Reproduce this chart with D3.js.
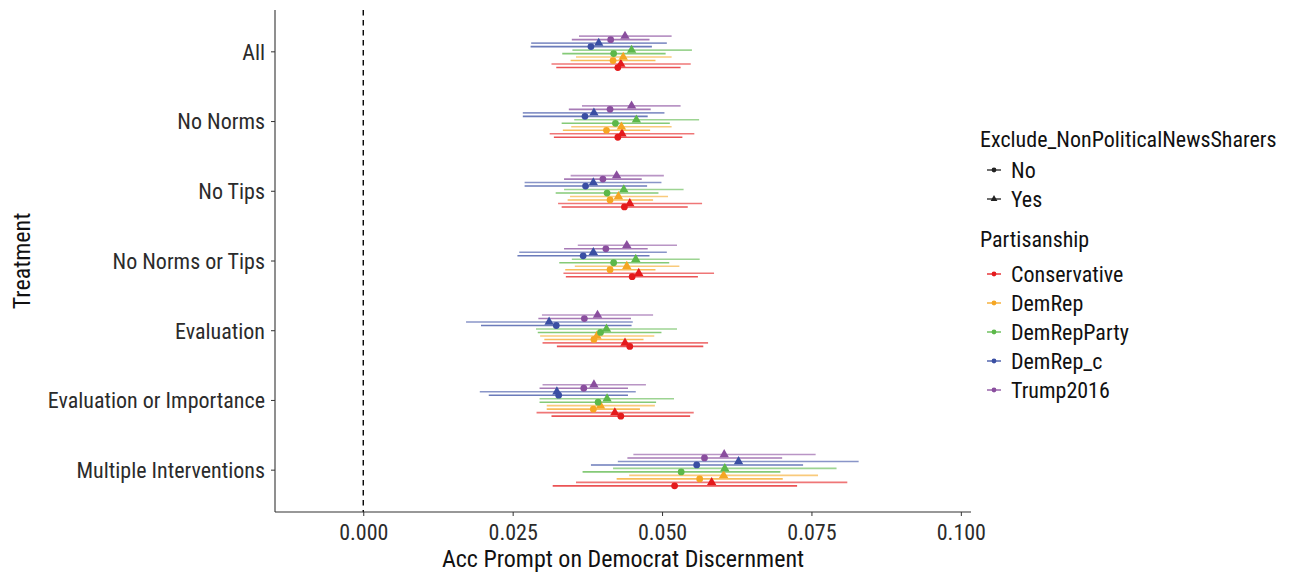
<!DOCTYPE html>
<html><head><meta charset="utf-8">
<script src="https://cdn.jsdelivr.net/npm/d3@7"></script>
<style>
body{margin:0;background:#fff;}
text{font-family:"Roboto Condensed","Liberation Sans Narrow","Arial Narrow",sans-serif;}
</style></head><body>
<svg id="c" width="1291" height="578"></svg>
<script>
const treatments = ["All","No Norms","No Tips","No Norms or Tips","Evaluation","Evaluation or Importance","Multiple Interventions"];
const partisanship = ["Conservative","DemRep","DemRepParty","DemRep_c","Trump2016"];
const excludeLevels = ["No","Yes"];
const partyColors = ["#e41a1c","#f5a623","#5cb84a","#3a4fa3","#8a4e9e"];
const xTicks = [0.000,0.025,0.050,0.075,0.100];

// estimates per treatment: [party][exclude No, Yes]
const est = {
 "All":[[0.0426,0.0431],[0.0418,0.0435],[0.0419,0.0449],[0.0381,0.0394],[0.0414,0.0438]],
 "No Norms":[[0.0426,0.0433],[0.0407,0.0432],[0.0422,0.0457],[0.0371,0.0386],[0.0413,0.0449]],
 "No Tips":[[0.0437,0.0446],[0.0413,0.0427],[0.0408,0.0436],[0.0372,0.0385],[0.0401,0.0424]],
 "No Norms or Tips":[[0.0450,0.0461],[0.0413,0.0441],[0.0419,0.0456],[0.0368,0.0385],[0.0406,0.0441]],
 "Evaluation":[[0.0446,0.0438],[0.0386,0.0391],[0.0397,0.0407],[0.0323,0.0311],[0.0370,0.0392]],
 "Evaluation or Importance":[[0.0431,0.0421],[0.0385,0.0397],[0.0393,0.0408],[0.0327,0.0324],[0.0369,0.0386]],
 "Multiple Interventions":[[0.0521,0.0583],[0.0563,0.0603],[0.0532,0.0605],[0.0558,0.0628],[0.0571,0.0604]]
};
const lower = {
 "All":[[0.0323,0.0315],[0.0347,0.0356],[0.0333,0.0350],[0.0280,0.0281],[0.0349,0.0361]],
 "No Norms":[[0.0319,0.0312],[0.0334,0.0348],[0.0332,0.0353],[0.0267,0.0267],[0.0344,0.0366]],
 "No Tips":[[0.0332,0.0326],[0.0342,0.0346],[0.0322,0.0336],[0.0270,0.0270],[0.0336,0.0347]],
 "No Norms or Tips":[[0.0339,0.0335],[0.0338,0.0354],[0.0328,0.0349],[0.0258,0.0261],[0.0336,0.0359]],
 "Evaluation":[[0.0324,0.0300],[0.0303,0.0296],[0.0292,0.0289],[0.0197,0.0172],[0.0293,0.0299]],
 "Evaluation or Importance":[[0.0315,0.0290],[0.0307,0.0307],[0.0295,0.0295],[0.0210,0.0195],[0.0295,0.0300]],
 "Multiple Interventions":[[0.0317,0.0356],[0.0424,0.0445],[0.0367,0.0418],[0.0381,0.0426],[0.0442,0.0452]]
};
const upper = {
 "All":[[0.0531,0.0548],[0.0489,0.0516],[0.0506,0.0550],[0.0483,0.0508],[0.0479,0.0516]],
 "No Norms":[[0.0534,0.0554],[0.0480,0.0516],[0.0513,0.0562],[0.0476,0.0504],[0.0481,0.0531]],
 "No Tips":[[0.0543,0.0567],[0.0485,0.0510],[0.0494,0.0536],[0.0475,0.0499],[0.0466,0.0503]],
 "No Norms or Tips":[[0.0560,0.0587],[0.0489,0.0529],[0.0512,0.0563],[0.0479,0.0508],[0.0476,0.0525]],
 "Evaluation":[[0.0569,0.0577],[0.0469,0.0487],[0.0499,0.0525],[0.0449,0.0451],[0.0448,0.0485]],
 "Evaluation or Importance":[[0.0547,0.0553],[0.0463,0.0488],[0.0490,0.0520],[0.0443,0.0456],[0.0443,0.0473]],
 "Multiple Interventions":[[0.0726,0.0810],[0.0702,0.0761],[0.0698,0.0792],[0.0736,0.0829],[0.0701,0.0757]]
};

const svg = d3.select("#c");
const pL = 275, pR = 971, pT = 10, pB = 512;
const x = d3.scaleLinear().domain([-0.01477, 0.1017]).range([pL, pR]);
const y = d3.scaleBand().domain(treatments).range([pT, pB]).paddingOuter(0.1).paddingInner(0);
const color = d3.scaleOrdinal().domain(partisanship).range(partyColors);

const rows = [];
partisanship.forEach((p,pi)=>excludeLevels.forEach((e,ei)=>{
  treatments.forEach(t=>rows.push({t,p,e,idx:pi*2+ei,est:est[t][pi][ei],lo:lower[t][pi][ei],hi:upper[t][pi][ei]}));
}));
const dodgeStep = y.bandwidth()*0.05;
const yPos = d => y(d.t) + y.bandwidth()/2 + (4.5 - d.idx)*dodgeStep;

svg.append("line").attr("x1",x(0)).attr("x2",x(0)).attr("y1",pT).attr("y2",pB)
  .attr("stroke","#000").attr("stroke-width",1.4).attr("stroke-dasharray","5.5,4.5");

const g = svg.append("g");
g.selectAll("line.ci").data(rows).join("line").attr("class","ci")
  .attr("x1",d=>x(d.lo)).attr("x2",d=>x(d.hi)).attr("y1",yPos).attr("y2",yPos)
  .attr("stroke",d=>color(d.p)).attr("stroke-width",1.6)
  .attr("stroke-opacity",d=>d.e==="No"?0.75:0.6);

const tri = d3.symbol().type(d3.symbolTriangle).size(38);
const circ = d3.symbol().type(d3.symbolCircle).size(36);
g.selectAll("path.pt").data(rows).join("path").attr("class","pt")
  .attr("d",d=>d.e==="No"?circ():tri())
  .attr("transform",d=>`translate(${x(d.est)},${yPos(d)})`)
  .attr("fill",d=>color(d.p));

const xAxis = svg.append("g").attr("transform",`translate(0,${pB})`)
  .call(d3.axisBottom(x).tickValues(xTicks).tickFormat(d3.format(".3f")).tickSizeOuter(0).tickSize(4).tickPadding(6));
const yAxis = svg.append("g").attr("transform",`translate(${pL},0)`)
  .call(d3.axisLeft(y).tickSizeOuter(0).tickSize(4).tickPadding(6));
[xAxis,yAxis].forEach(a=>{
  a.select(".domain").attr("stroke","#333").attr("stroke-width",1.1);
  a.selectAll(".tick line").attr("stroke","#333");
  a.selectAll(".tick text").attr("fill","#2b2b2b").style("font-size","22px");
});
xAxis.select(".domain").attr("d",`M${pL},0H${pR}`);
yAxis.select(".domain").attr("d",`M0,${pT}V${pB}`);
xAxis.selectAll(".tick text").attr("y",28).attr("dy","0");
yAxis.selectAll(".tick text").attr("dy","0.36em");

svg.append("text").attr("x",(pL+pR)/2).attr("y",567).attr("text-anchor","middle")
  .style("font-size","24px").attr("fill","#111").text("Acc Prompt on Democrat Discernment");
svg.append("text").attr("transform",`translate(30,${(pT+pB)/2}) rotate(-90)`).attr("text-anchor","middle")
  .style("font-size","24px").attr("fill","#111").text("Treatment");

const lg = svg.append("g");
lg.append("text").attr("x",980).attr("y",147).style("font-size","22px").attr("fill","#111").text("Exclude_NonPoliticalNewsSharers");
excludeLevels.forEach((e,i)=>{
  const yy = 170 + i*29;
  lg.append("line").attr("x1",987).attr("x2",1001).attr("y1",yy).attr("y2",yy).attr("stroke","#222").attr("stroke-width",1.3);
  lg.append("path").attr("d",(e==="No"?d3.symbol().type(d3.symbolCircle).size(18):d3.symbol().type(d3.symbolTriangle).size(20))())
    .attr("transform",`translate(994,${yy})`).attr("fill","#222");
  lg.append("text").attr("x",1011).attr("y",yy).attr("dy","0.36em").style("font-size","22px").attr("fill","#111").text(e);
});
lg.append("text").attr("x",980).attr("y",247).style("font-size","22px").attr("fill","#111").text("Partisanship");
partisanship.forEach((p,i)=>{
  const yy = 274 + i*29;
  lg.append("line").attr("x1",987).attr("x2",1001).attr("y1",yy).attr("y2",yy).attr("stroke",color(p)).attr("stroke-width",1.3);
  lg.append("path").attr("d",d3.symbol().type(d3.symbolCircle).size(18)()).attr("transform",`translate(994,${yy})`).attr("fill",color(p));
  lg.append("text").attr("x",1011).attr("y",yy).attr("dy","0.36em").style("font-size","22px").attr("fill","#111").text(p);
});
</script></body></html>
